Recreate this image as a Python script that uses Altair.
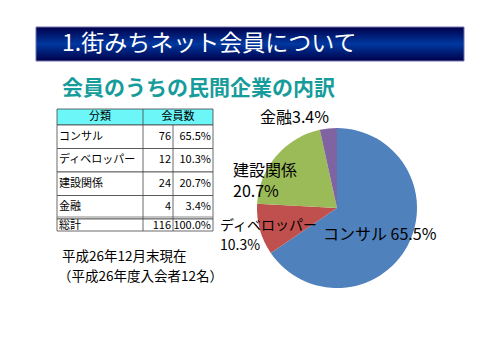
import altair as alt
import pandas as pd

# ---- data ----
title = ["1.街みちネット会員について"]
subtitle = ["会員のうちの民間企業の内訳"]
categories = ["コンサル", "ディベロッパー", "建設関係", "金融"]
counts = [76, 12, 24, 4]
percents = ["65.5%", "10.3%", "20.7%", "3.4%"]
total_label = ["総計"]
total_count = [116]
total_percent = ["100.0%"]
headers = ["分類", "会員数"]
notes = ["平成26年12月末現在", "（平成26年度入会者12名）"]
label_separators = [" ", "\n", "\n", ""]

# ---- styles ----
FONT = "Noto Sans CJK JP"
slice_colors = ["#4F81BD", "#C0504D", "#9BBB59", "#8064A2"]
LINE = "#444444"

df = pd.DataFrame({
    "分類": categories,
    "会員数": counts,
    "割合": percents,
    "順": list(range(len(categories))),
    "ラベル": [c + s + p for c, s, p in zip(categories, label_separators, percents)],
})
title_df = pd.DataFrame({"t": title})
sub_df = pd.DataFrame({"t": subtitle})
hdr_df = pd.DataFrame({"t": headers})
tot_df = pd.DataFrame({"分類": total_label, "会員数": total_count, "割合": total_percent})
note_df = pd.DataFrame({"t": notes})
one = pd.DataFrame({"k": [0]})

row_scale = alt.Scale(type="band", domain=categories, range=[125, 219],
                      paddingInner=0, paddingOuter=0)
Yrow = alt.Y("分類:N", scale=row_scale, axis=None)

# banner
banner = alt.Chart(one).mark_rect(
    color=alt.Gradient(
        gradient="linear", x1=0, x2=0, y1=0, y2=1,
        stops=[alt.GradientStop(offset=0, color="#00004A"),
               alt.GradientStop(offset=0.5, color="#0038A0"),
               alt.GradientStop(offset=1, color="#00004A")]),
    stroke="#7070B0", strokeWidth=1,
).encode(x=alt.value(36), x2=alt.value(464), y=alt.value(27), y2=alt.value(61))

title_txt = alt.Chart(title_df).mark_text(
    align="left", baseline="middle", font=FONT, fontSize=23, color="white"
).encode(x=alt.value(62), y=alt.value(44), text="t:N")

sub_txt = alt.Chart(sub_df).mark_text(
    align="left", baseline="middle", font=FONT, fontSize=21, fontWeight="bold", color="#179C9C"
).encode(x=alt.value(62), y=alt.value(89), text="t:N")

# table
hdr_rect = alt.Chart(one).mark_rect(fill="#6CF6F8", stroke=LINE, strokeWidth=0.8).encode(
    x=alt.value(57), x2=alt.value(213), y=alt.value(109), y2=alt.value(125))
row_rect = alt.Chart(df).mark_rect(fill="white", stroke=LINE, strokeWidth=0.8).encode(
    x=alt.value(57), x2=alt.value(213), y=Yrow)
tot_rect = alt.Chart(one).mark_rect(fill="white", stroke=LINE, strokeWidth=0.8).encode(
    x=alt.value(57), x2=alt.value(213), y=alt.value(219), y2=alt.value(231))
dbl_rule = alt.Chart(one).mark_rule(color="#888888", strokeWidth=1).encode(
    x=alt.value(57), x2=alt.value(213), y=alt.value(217))
col1 = alt.Chart(one).mark_rule(color=LINE, strokeWidth=0.8).encode(
    x=alt.value(143), y=alt.value(109), y2=alt.value(231))
col2 = alt.Chart(one).mark_rule(color=LINE, strokeWidth=0.8).encode(
    x=alt.value(173), y=alt.value(125), y2=alt.value(231))

tstyle = dict(font=FONT, fontSize=11, color="black", baseline="middle")
hdr1 = alt.Chart(hdr_df).transform_filter(alt.datum.t == headers[0]).mark_text(
    align="center", **tstyle).encode(x=alt.value(100), y=alt.value(117), text="t:N")
hdr2 = alt.Chart(hdr_df).transform_filter(alt.datum.t == headers[1]).mark_text(
    align="center", **tstyle).encode(x=alt.value(178), y=alt.value(117), text="t:N")
cat_txt = alt.Chart(df).mark_text(align="left", **tstyle).encode(
    x=alt.value(59), y=Yrow, text="分類:N")
cnt_txt = alt.Chart(df).mark_text(align="right", **tstyle).encode(
    x=alt.value(171), y=Yrow, text="会員数:Q")
pct_txt = alt.Chart(df).mark_text(align="right", **tstyle).encode(
    x=alt.value(211), y=Yrow, text="割合:N")
tot1 = alt.Chart(tot_df).mark_text(align="left", **tstyle).encode(
    x=alt.value(59), y=alt.value(225.5), text="分類:N")
tot2 = alt.Chart(tot_df).mark_text(align="right", **tstyle).encode(
    x=alt.value(171), y=alt.value(225.5), text="会員数:Q")
tot3 = alt.Chart(tot_df).mark_text(align="right", **tstyle).encode(
    x=alt.value(211), y=alt.value(225.5), text="割合:N")

# notes
note_style = dict(font=FONT, fontSize=13.5, color="black", baseline="middle", align="left")
note1 = alt.Chart(note_df).transform_filter(alt.datum.t == notes[0]).mark_text(**note_style).encode(
    x=alt.value(62), y=alt.value(257), text="t:N")
note2 = alt.Chart(note_df).transform_filter(alt.datum.t == notes[1]).mark_text(**note_style).encode(
    x=alt.value(58), y=alt.value(277), text="t:N")

# pie
pie = alt.Chart(df).mark_arc(outerRadius=80).encode(
    theta=alt.Theta("会員数:Q", stack=True),
    color=alt.Color("分類:N", scale=alt.Scale(domain=categories, range=slice_colors), legend=None),
    order=alt.Order("順:Q"),
    x=alt.value(337), y=alt.value(208),
)

# (x, y, font size, line height)
label_pos = {"コンサル": (323, 235, 16, 20), "ディベロッパー": (220, 226, 14, 20),
             "建設関係": (233, 171, 16, 21), "金融": (260, 118, 16, 20)}
labels = [
    alt.Chart(df).transform_filter(alt.datum["分類"] == c).mark_text(
        font=FONT, fontSize=label_pos[c][2], color="black", baseline="middle", align="left",
        lineBreak="\n", lineHeight=label_pos[c][3],
    ).encode(x=alt.value(label_pos[c][0]), y=alt.value(label_pos[c][1]), text="ラベル:N")
    for c in categories
]

chart = alt.layer(
    banner, title_txt, sub_txt,
    hdr_rect, row_rect, tot_rect, dbl_rule, col1, col2,
    hdr1, hdr2, cat_txt, cnt_txt, pct_txt, tot1, tot2, tot3,
    note1, note2, pie, *labels,
).properties(
    width=500, height=354, padding=0,
    autosize=alt.AutoSizeParams(type="none"),
    background="white",
).configure_view(stroke=None)

chart.save("out.html", embed_options={"renderer": "svg", "actions": False})
